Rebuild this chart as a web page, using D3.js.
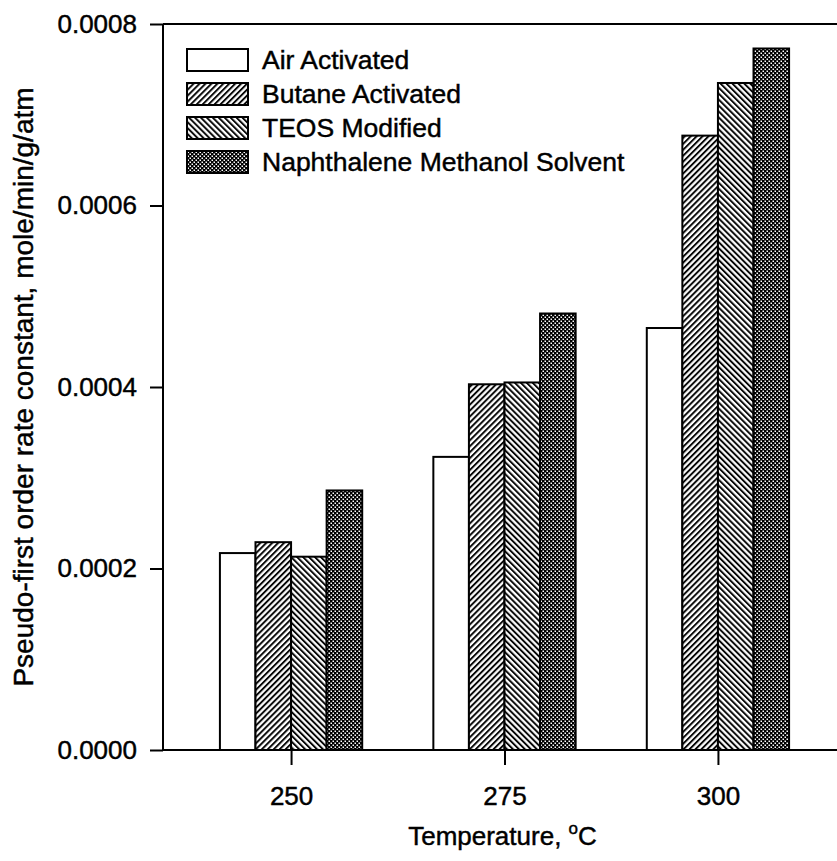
<!DOCTYPE html>
<html>
<head>
<meta charset="utf-8">
<script src="https://cdn.jsdelivr.net/npm/d3@7"></script>
<style>
  body { margin: 0; background: #fff; }
  svg text { font-family: "Liberation Sans", Arial, sans-serif; fill: #000; stroke: #000; stroke-width: 0.45px; }
</style>
</head>
<body>
<svg id="chart" width="837" height="861"></svg>
<script>
// data
var temperatures = [250, 275, 300];
var seriesNames = ["Air Activated", "Butane Activated", "TEOS Modified", "Naphthalene Methanol Solvent"];
var airActivated = [0.000217, 0.000323, 0.000465];
var butaneActivated = [0.000229, 0.000403, 0.000677];
var teosModified = [0.000213, 0.000405, 0.000735];
var naphthaleneSolvent = [0.000286, 0.000481, 0.000773];
var yTicks = [0, 0.0002, 0.0004, 0.0006, 0.0008];

var seriesValues = [airActivated, butaneActivated, teosModified, naphthaleneSolvent];
var fills = ["#fff", "url(#hatchUp)", "url(#hatchDown)", "url(#checks)"];

var svg = d3.select("#chart");
var margin = {top: 24, left: 163, bottom: 750, right: 846};

var x = d3.scaleLinear().domain([235, 315]).range([margin.left, margin.right]);
var y = d3.scaleLinear().domain([0, 0.0008]).range([margin.bottom, margin.top]);
var bw = (x(275) - x(250)) / 6;

/* fill patterns */
var defs = svg.append("defs");
function stripes(id, angle) {
  var p = defs.append("pattern").attr("id", id)
    .attr("patternUnits", "userSpaceOnUse")
    .attr("width", 4.2).attr("height", 4.2)
    .attr("patternTransform", "rotate(" + angle + ")");
  p.append("rect").attr("width", 4.2).attr("height", 4.2).attr("fill", "#fff");
  p.append("line").attr("x1", 1).attr("x2", 1).attr("y1", 0).attr("y2", 4.2)
    .attr("stroke", "#000").attr("stroke-width", 1.9);
}
stripes("hatchUp", 45);
stripes("hatchDown", -45);

var chk = defs.append("pattern").attr("id", "checks")
  .attr("patternUnits", "userSpaceOnUse").attr("width", 4).attr("height", 4);
chk.append("rect").attr("width", 4).attr("height", 4).attr("fill", "#000");
chk.append("rect").attr("x", 0.5).attr("y", 0.5).attr("width", 1.5).attr("height", 1.5).attr("fill", "#fff");
chk.append("rect").attr("x", 2.5).attr("y", 2.5).attr("width", 1.5).attr("height", 1.5).attr("fill", "#fff");

// bars
seriesValues.forEach(function(vals, i) {
  svg.append("g").selectAll("rect")
    .data(vals)
    .enter().append("rect")
      .attr("x", function(d, j) { return x(temperatures[j]) + (i - 2) * bw; })
      .attr("y", function(d) { return y(d); })
      .attr("width", bw)
      .attr("height", function(d) { return y(0) - y(d); })
      .attr("fill", fills[i])
      .attr("stroke", "#000")
      .attr("stroke-width", 2);
});

// frame
svg.append("line")
  .attr("x1", margin.left).attr("x2", margin.right)
  .attr("y1", margin.top).attr("y2", margin.top)
  .attr("stroke", "#000").attr("stroke-width", 2);

var xAxis = svg.append("g")
  .attr("transform", "translate(0," + margin.bottom + ")")
  .call(d3.axisBottom(x).tickValues(temperatures).tickSize(15).tickPadding(22).tickFormat(d3.format("d")));

var yAxis = svg.append("g")
  .attr("transform", "translate(" + margin.left + ",0)")
  .call(d3.axisLeft(y).tickValues(yTicks).tickSize(13).tickPadding(13).tickFormat(d3.format(".4f")));

[xAxis, yAxis].forEach(function(a) {
  a.selectAll("path, line").attr("stroke", "#000").attr("stroke-width", 2);
  a.select(".domain").attr("d", a === xAxis
    ? "M" + margin.left + ",0H" + margin.right
    : "M0," + margin.bottom + "V" + margin.top);
  a.selectAll("text").attr("font-size", 26).attr("font-family", "'Liberation Sans', Arial, sans-serif");
});

// axis titles
var xt = svg.append("text")
  .attr("x", x(275) - 2).attr("y", 845)
  .attr("text-anchor", "middle").attr("font-size", 26);
xt.append("tspan").text("Temperature, ");
xt.append("tspan").attr("font-size", 17).attr("dy", -11).text("o");
xt.append("tspan").attr("dy", 11).text("C");

svg.append("text")
  .attr("transform", "translate(33," + (margin.top + margin.bottom) / 2 + ") rotate(-90)")
  .attr("text-anchor", "middle").attr("font-size", 28)
  .text("Pseudo-first order rate constant, mole/min/g/atm");

// legend
var legend = svg.append("g").selectAll("g")
  .data(seriesNames)
  .enter().append("g")
    .attr("transform", function(d, i) { return "translate(187," + (49 + i * 34) + ")"; });

legend.append("rect")
  .attr("width", 61).attr("height", 22)
  .attr("fill", function(d, i) { return fills[i]; })
  .attr("stroke", "#000").attr("stroke-width", 2);

legend.append("text")
  .attr("x", 75).attr("y", 20)
  .attr("font-size", 26.5)
  .text(function(d) { return d; });
</script>
</body>
</html>
